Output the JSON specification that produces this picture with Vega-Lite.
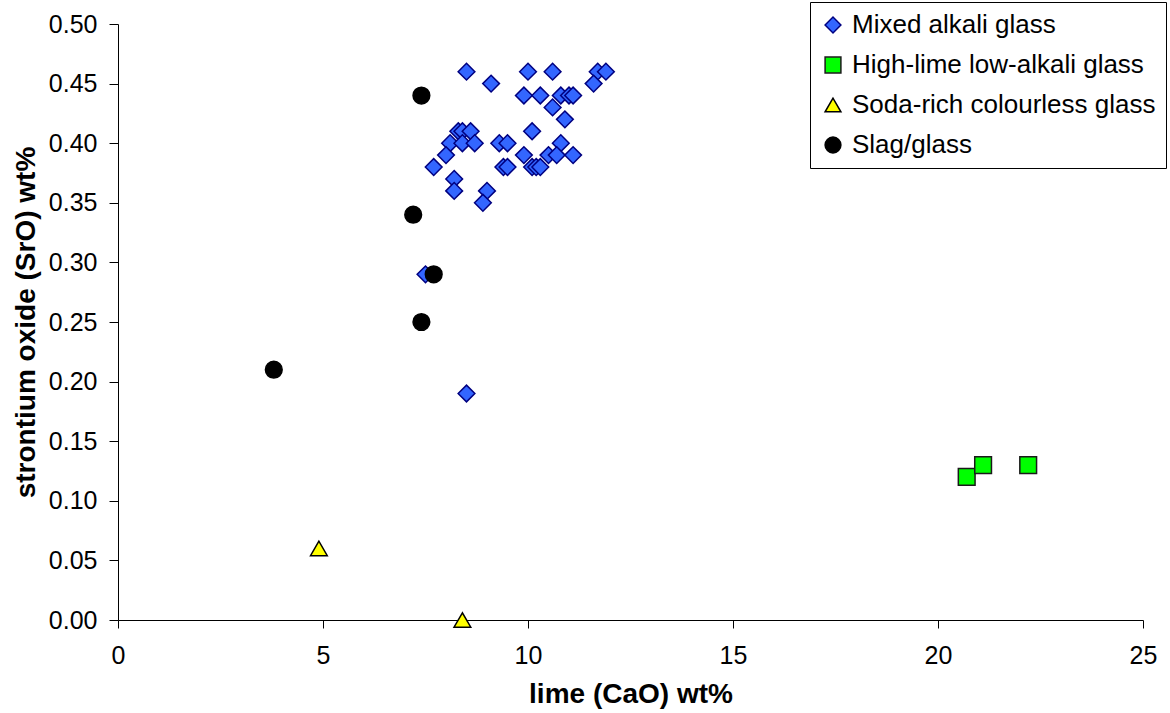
{
  "$schema": "https://vega.github.io/schema/vega-lite/v6.json",
  "width": 1025,
  "height": 596,
  "autosize": {"type": "none"},
  "padding": {"left": 118, "top": 24, "right": 27, "bottom": 93},
  "config": {
    "font": "Liberation Sans",
    "view": {"stroke": null},
    "axis": {"grid": false, "domainColor": "#000", "tickColor": "#000", "labelColor": "#000", "titleColor": "#000", "labelFont": "Liberation Sans", "titleFont": "Liberation Sans"}
  },
  "data": {
    "values": [
      {"group": "Mixed alkali glass", "cao": 8.5, "sro": 0.46},
      {"group": "Mixed alkali glass", "cao": 9.1, "sro": 0.45},
      {"group": "Mixed alkali glass", "cao": 10.0, "sro": 0.46},
      {"group": "Mixed alkali glass", "cao": 10.6, "sro": 0.46},
      {"group": "Mixed alkali glass", "cao": 11.7, "sro": 0.46},
      {"group": "Mixed alkali glass", "cao": 11.9, "sro": 0.46},
      {"group": "Mixed alkali glass", "cao": 11.6, "sro": 0.45},
      {"group": "Mixed alkali glass", "cao": 9.9, "sro": 0.44},
      {"group": "Mixed alkali glass", "cao": 10.3, "sro": 0.44},
      {"group": "Mixed alkali glass", "cao": 10.8, "sro": 0.44},
      {"group": "Mixed alkali glass", "cao": 11.0, "sro": 0.44},
      {"group": "Mixed alkali glass", "cao": 11.1, "sro": 0.44},
      {"group": "Mixed alkali glass", "cao": 10.6, "sro": 0.43},
      {"group": "Mixed alkali glass", "cao": 10.9, "sro": 0.42},
      {"group": "Mixed alkali glass", "cao": 10.1, "sro": 0.41},
      {"group": "Mixed alkali glass", "cao": 8.3, "sro": 0.41},
      {"group": "Mixed alkali glass", "cao": 8.4, "sro": 0.41},
      {"group": "Mixed alkali glass", "cao": 8.6, "sro": 0.41},
      {"group": "Mixed alkali glass", "cao": 8.1, "sro": 0.40},
      {"group": "Mixed alkali glass", "cao": 8.4, "sro": 0.40},
      {"group": "Mixed alkali glass", "cao": 8.7, "sro": 0.40},
      {"group": "Mixed alkali glass", "cao": 9.3, "sro": 0.40},
      {"group": "Mixed alkali glass", "cao": 9.5, "sro": 0.40},
      {"group": "Mixed alkali glass", "cao": 10.8, "sro": 0.40},
      {"group": "Mixed alkali glass", "cao": 8.0, "sro": 0.39},
      {"group": "Mixed alkali glass", "cao": 9.9, "sro": 0.39},
      {"group": "Mixed alkali glass", "cao": 10.5, "sro": 0.39},
      {"group": "Mixed alkali glass", "cao": 10.7, "sro": 0.39},
      {"group": "Mixed alkali glass", "cao": 11.1, "sro": 0.39},
      {"group": "Mixed alkali glass", "cao": 7.7, "sro": 0.38},
      {"group": "Mixed alkali glass", "cao": 9.4, "sro": 0.38},
      {"group": "Mixed alkali glass", "cao": 9.5, "sro": 0.38},
      {"group": "Mixed alkali glass", "cao": 10.1, "sro": 0.38},
      {"group": "Mixed alkali glass", "cao": 10.2, "sro": 0.38},
      {"group": "Mixed alkali glass", "cao": 10.3, "sro": 0.38},
      {"group": "Mixed alkali glass", "cao": 8.2, "sro": 0.37},
      {"group": "Mixed alkali glass", "cao": 8.2, "sro": 0.36},
      {"group": "Mixed alkali glass", "cao": 9.0, "sro": 0.36},
      {"group": "Mixed alkali glass", "cao": 8.9, "sro": 0.35},
      {"group": "Mixed alkali glass", "cao": 7.5, "sro": 0.29},
      {"group": "Mixed alkali glass", "cao": 8.5, "sro": 0.19},
      {"group": "High-lime low-alkali glass", "cao": 20.7, "sro": 0.12},
      {"group": "High-lime low-alkali glass", "cao": 21.1, "sro": 0.13},
      {"group": "High-lime low-alkali glass", "cao": 22.2, "sro": 0.13},
      {"group": "Soda-rich colourless glass", "cao": 4.9, "sro": 0.06},
      {"group": "Soda-rich colourless glass", "cao": 8.4, "sro": 0.0},
      {"group": "Slag/glass", "cao": 7.4, "sro": 0.44},
      {"group": "Slag/glass", "cao": 7.2, "sro": 0.34},
      {"group": "Slag/glass", "cao": 7.7, "sro": 0.29},
      {"group": "Slag/glass", "cao": 7.4, "sro": 0.25},
      {"group": "Slag/glass", "cao": 3.8, "sro": 0.21}
    ]
  },
  "mark": {"type": "point", "filled": true, "size": 280, "strokeWidth": 1.5, "opacity": 1, "clip": false},
  "encoding": {
    "x": {
      "field": "cao", "type": "quantitative",
      "scale": {"domain": [0, 25], "nice": false, "zero": false},
      "axis": {"values": [0, 5, 10, 15, 20, 25], "title": "lime (CaO) wt%", "titleFontSize": 28, "titleFontWeight": "bold", "labelFontSize": 25, "tickSize": 8, "labelPadding": 15, "titlePadding": 12, "labelFlush": false}
    },
    "y": {
      "field": "sro", "type": "quantitative",
      "scale": {"domain": [0, 0.5], "nice": false, "zero": false},
      "axis": {"values": [0, 0.05, 0.1, 0.15, 0.2, 0.25, 0.3, 0.35, 0.4, 0.45, 0.5], "format": ".2f", "title": "strontium oxide (SrO) wt%", "titleFontSize": 28, "titleFontWeight": "bold", "labelFontSize": 25, "tickSize": 9, "labelPadding": 12, "titlePadding": 8, "labelFlush": false}
    },
    "shape": {
      "field": "group", "type": "nominal",
      "scale": {"domain": ["Mixed alkali glass", "High-lime low-alkali glass", "Soda-rich colourless glass", "Slag/glass"], "range": ["diamond", "square", "triangle-up", "circle"]},
      "legend": {"orient": "none", "legendX": 692, "legendY": -22, "title": null, "strokeColor": "#000", "fillColor": "#fff", "padding": 10, "rowPadding": 14, "labelFontSize": 26, "labelLimit": 500, "labelColor": "#000", "symbolSize": 250, "labelOffset": 6, "symbolStrokeWidth": 1.5}
    },
    "fill": {
      "field": "group", "type": "nominal",
      "scale": {"domain": ["Mixed alkali glass", "High-lime low-alkali glass", "Soda-rich colourless glass", "Slag/glass"], "range": ["#3366FF", "#00FF00", "#FFFF00", "#000000"]}
    },
    "stroke": {
      "field": "group", "type": "nominal",
      "scale": {"domain": ["Mixed alkali glass", "High-lime low-alkali glass", "Soda-rich colourless glass", "Slag/glass"], "range": ["#000080", "#1a1a1a", "#000000", "#000000"]}
    }
  }
}
